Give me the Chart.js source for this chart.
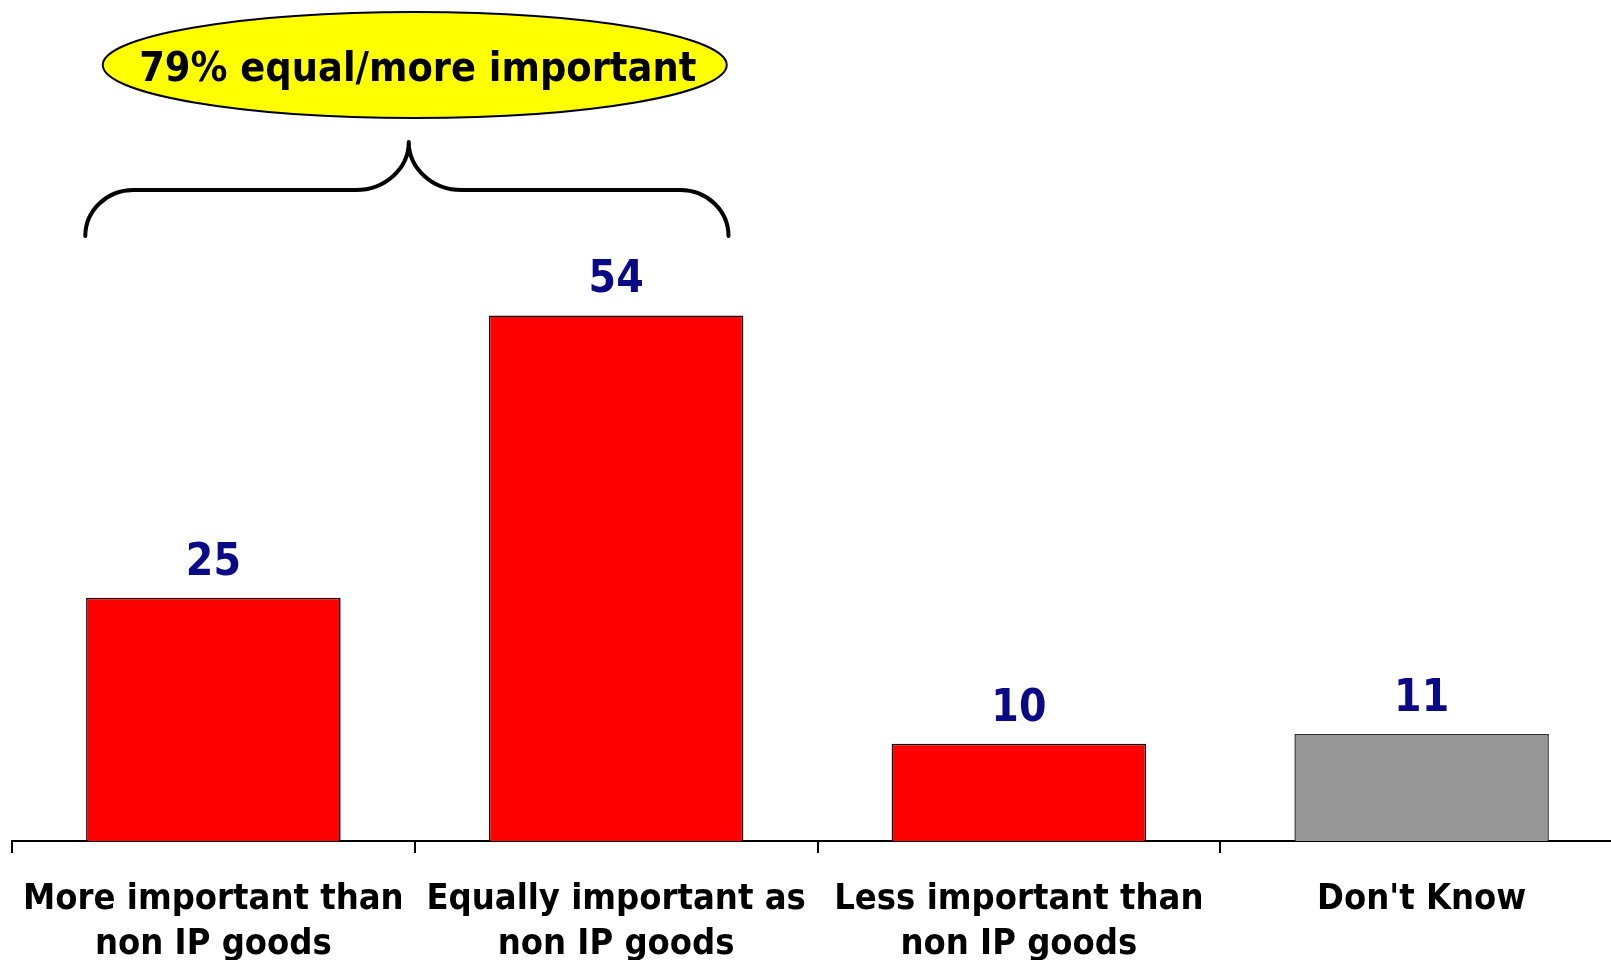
<!DOCTYPE html>
<html>
<head>
<meta charset="utf-8">
<script src="https://cdn.jsdelivr.net/npm/chart.js@4.4.1/dist/chart.umd.min.js"></script>
<style>
  html, body { margin: 0; padding: 0; background: #fff; overflow: hidden; }
  #wrap { position: absolute; left: 0; top: 0; width: 1624px; height: 991px; }
</style>
</head>
<body>
<div id="wrap"><canvas id="chart"></canvas></div>
<script>
/* ===== Data ===== */
const categories = [
    ['More important than', 'non IP goods'],
    ['Equally important as', 'non IP goods'],
    ['Less important than', 'non IP goods'],
    ["Don't Know"]
];
const values = [25, 54, 10, 11];
const barColors = ['#ff0000', '#ff0000', '#ff0000', '#969696'];
const borderColors = ['#000000', '#000000', '#000000', '#333333'];
const calloutText = '79% equal/more important';

const FONT = "'DejaVu Sans Condensed', 'DejaVu Sans', sans-serif";
Chart.defaults.font.family = FONT;

/* ---- value labels above bars ---- */
const valueLabels = {
    id: 'valueLabels',
    afterDatasetsDraw(chart) {
        const ctx = chart.ctx;
        const meta = chart.getDatasetMeta(0);
        ctx.save();
        ctx.font = 'bold 44px ' + FONT;
        ctx.fillStyle = '#0a0a86';
        ctx.textAlign = 'center';
        ctx.textBaseline = 'alphabetic';
        meta.data.forEach((bar, i) => {
            ctx.fillText(String(values[i]), bar.x, bar.y - 23);
        });
        ctx.restore();
    }
};

/* ---- brace + yellow callout over the first two bars ---- */
const callout = {
    id: 'callout',
    afterDraw(chart) {
        const ctx = chart.ctx;
        const x = chart.scales.x;
        const cw = x.getPixelForValue(1) - x.getPixelForValue(0);
        const x0 = x.getPixelForValue(0) - 0.318 * cw;
        const x1 = x.getPixelForValue(1) + 0.279 * cw;
        const xm = (x.getPixelForValue(0) + x.getPixelForValue(1)) / 2 - 6;
        const top = chart.chartArea.top;
        const yb = top + 232, yh = top + 186, yt = top + 138;
        const k = 0.5523;

        ctx.save();
        ctx.strokeStyle = '#000';
        ctx.lineWidth = 4;
        ctx.lineCap = 'round';
        ctx.lineJoin = 'round';
        ctx.beginPath();
        ctx.moveTo(x0, yb);
        ctx.bezierCurveTo(x0, yb - k * (yb - yh), x0 + 48 - k * 48, yh, x0 + 48, yh);
        ctx.lineTo(xm - 53, yh);
        ctx.bezierCurveTo(xm - 53 + k * 53, yh, xm, yt + k * (yh - yt), xm, yt);
        ctx.bezierCurveTo(xm, yt + k * (yh - yt), xm + 53 - k * 53, yh, xm + 53, yh);
        ctx.lineTo(x1 - 48, yh);
        ctx.bezierCurveTo(x1 - 48 + k * 48, yh, x1, yb - k * (yb - yh), x1, yb);
        ctx.stroke();

        // ellipse
        const cx = (x.getPixelForValue(0) + x.getPixelForValue(1)) / 2;
        const cy = top + 61;
        ctx.beginPath();
        ctx.ellipse(cx, cy, 312, 53, 0, 0, Math.PI * 2);
        ctx.fillStyle = '#ffff00';
        ctx.fill();
        ctx.lineWidth = 2;
        ctx.stroke();

        ctx.font = 'bold 41px ' + FONT;
        ctx.fillStyle = '#000';
        ctx.textAlign = 'center';
        ctx.textBaseline = 'alphabetic';
        ctx.fillText(calloutText, cx + 3, cy + 16);
        ctx.restore();
    }
};

new Chart(document.getElementById('chart'), {
    type: 'bar',
    data: {
        labels: categories,
        datasets: [{
            data: values,
            backgroundColor: barColors,
            borderColor: borderColors,
            borderWidth: 1.5,
            categoryPercentage: 1,
            barPercentage: 0.632
        }]
    },
    options: {
        responsive: true, maintainAspectRatio: false,
        animation: false,
        layout: { padding: { left: 12, right: 1, top: 4, bottom: 0 } },
        plugins: { legend: { display: false }, tooltip: { enabled: false } },
        scales: {
            y: { display: false, min: 0, max: 86 },
            x: {
                afterFit(scale) { scale.paddingLeft = 0; scale.paddingRight = 0; },
                border: { display: true, color: '#000', width: 2 },
                grid: {
                    display: true, offset: true, drawOnChartArea: false,
                    drawTicks: true, tickLength: 12, color: '#000', lineWidth: 2
                },
                ticks: {
                    color: '#000', padding: 24,
                    maxRotation: 0, autoSkip: false,
                    font: { size: 36, weight: 'bold', lineHeight: 1.25 }
                }
            }
        }
    },
    plugins: [valueLabels, callout]
});
</script>
</body>
</html>
